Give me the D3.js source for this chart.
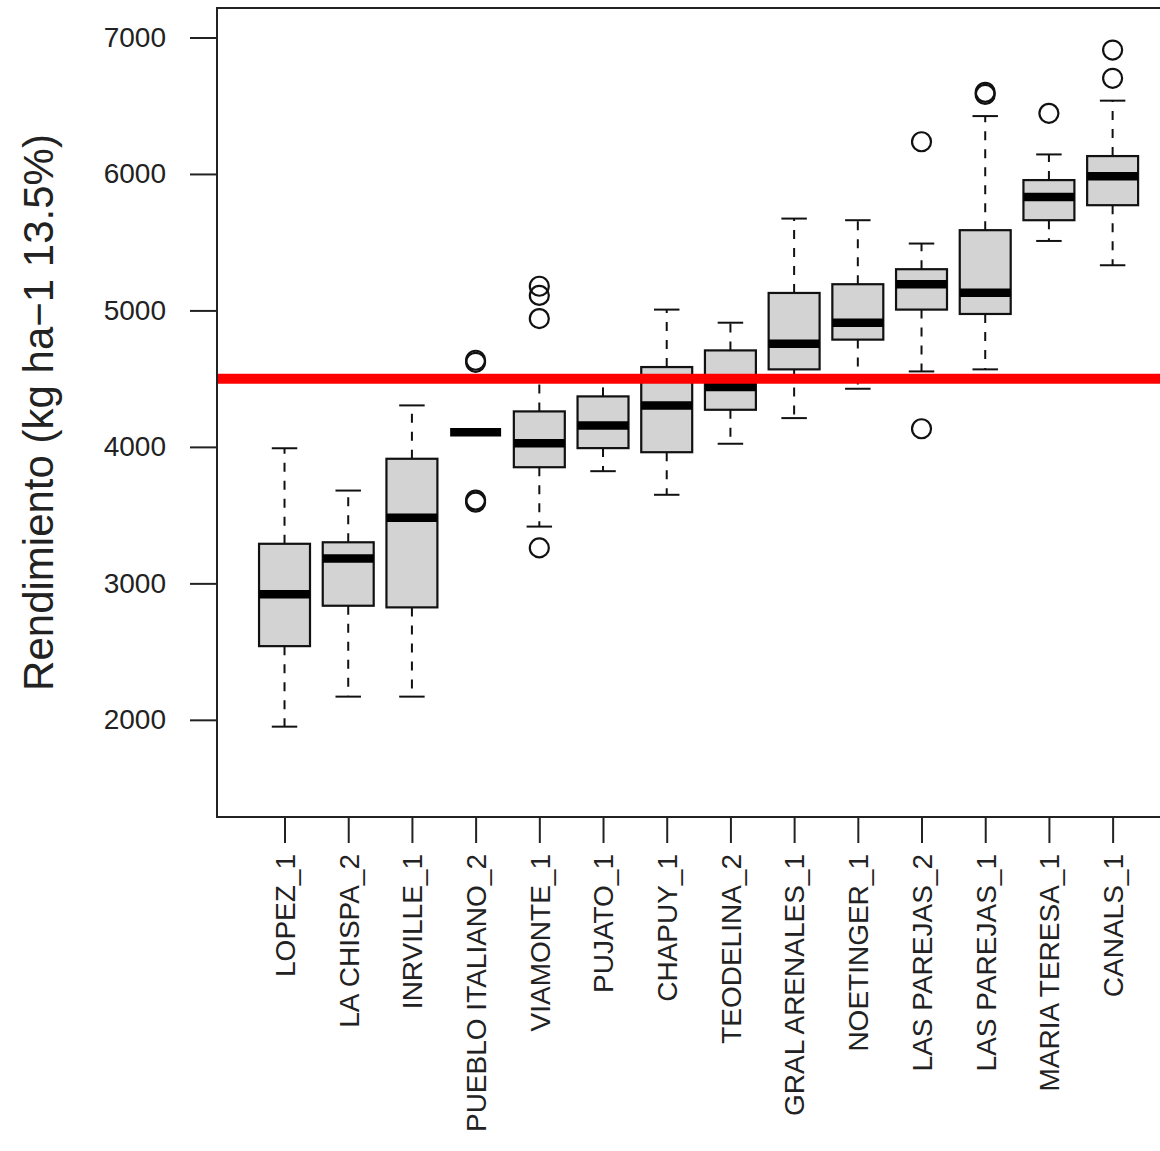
<!DOCTYPE html>
<html>
<head>
<meta charset="utf-8">
<script src="https://cdn.jsdelivr.net/npm/d3@7"></script>
<style>
  html, body { margin: 0; padding: 0; background: #fff; }
  svg { display: block; font-family: "Liberation Sans", Arial, sans-serif; }
</style>
</head>
<body>
<div id="chart"></div>
<script>
// sites in plotting order
const sites = ["LOPEZ_1", "LA CHISPA_2", "INRVILLE_1", "PUEBLO ITALIANO_2", "VIAMONTE_1",
  "PUJATO_1", "CHAPUY_1", "TEODELINA_2", "GRAL ARENALES_1", "NOETINGER_1",
  "LAS PAREJAS_2", "LAS PAREJAS_1", "MARIA TERESA_1", "CANALS_1"];

// five-number summaries (kg/ha)
const whiskerLow = [1950, 2170, 2170, 4108, 3416, 3822, 3649, 4023, 4211, 4426, 4553, 4568, 5509, 5331];
const q1 =         [2540, 2836, 2824, 4108, 3851, 3991, 3961, 4272, 4568, 4786, 5006, 4974, 5661, 5771];
const median =     [2920, 3183, 3480, 4108, 4027, 4157, 4304, 4438, 4756, 4910, 5192, 5130, 5832, 5984];
const q3 =         [3290, 3301, 3913, 4108, 4260, 4370, 4585, 4707, 5128, 5192, 5302, 5588, 5955, 6131];
const whiskerHigh = [3990, 3680, 4304, 4108, 4480, 4490, 5006, 4910, 5673, 5661, 5490, 6424, 6143, 6537];
const outliers = [[], [], [], [4620, 4635, 3595, 3610], [5177, 5110, 4940, 3260], [], [], [], [], [],
  [6236, 4133], [6583, 6598], [6444], [6908, 6701]];

const yTicks = [2000, 3000, 4000, 5000, 6000, 7000];
const meanLine = 4500;

const width = 1160;
const height = 1151;
const plotLeft = 217, plotTop = 8, plotBottom = 817;
const unit = 63.7;
const plotRight = plotLeft + 15.12 * unit;

const svg = d3.select('#chart')
  .append('svg')
  .attr('width', width)
  .attr('height', height);

const x = d3.scaleLinear()
  .domain([-0.06, 15.06])
  .range([plotLeft, plotRight]);

const y = d3.scaleLinear()
  .domain([1288, 7216])
  .range([plotBottom, plotTop]);

const boxW = 0.8 * unit;
const capW = boxW / 2;

const boxes = svg.append('g');

sites.forEach((s, i) => {
  const cx = x(i + 1);
  const g = boxes.append('g');

  // whiskers (dashed), drawn from box outward
  g.append('line')
    .attr('x1', cx).attr('x2', cx)
    .attr('y1', y(q1[i])).attr('y2', y(whiskerLow[i]))
    .attr('stroke', '#111').attr('stroke-width', 2)
    .attr('stroke-dasharray', '9,9');
  g.append('line')
    .attr('x1', cx).attr('x2', cx)
    .attr('y1', y(q3[i])).attr('y2', y(whiskerHigh[i]))
    .attr('stroke', '#111').attr('stroke-width', 2)
    .attr('stroke-dasharray', '9,9');

  // staples
  [whiskerLow[i], whiskerHigh[i]].forEach(v => {
    g.append('line')
      .attr('x1', cx - capW / 2).attr('x2', cx + capW / 2)
      .attr('y1', y(v)).attr('y2', y(v))
      .attr('stroke', '#111').attr('stroke-width', 2);
  });

  // box
  g.append('rect')
    .attr('x', cx - boxW / 2)
    .attr('y', y(q3[i]))
    .attr('width', boxW)
    .attr('height', y(q1[i]) - y(q3[i]))
    .attr('fill', '#d3d3d3')
    .attr('stroke', '#111')
    .attr('stroke-width', 2.2);

  // median
  g.append('line')
    .attr('x1', cx - boxW / 2).attr('x2', cx + boxW / 2)
    .attr('y1', y(median[i])).attr('y2', y(median[i]))
    .attr('stroke', '#000').attr('stroke-width', 8.5);

  g.selectAll('circle')
    .data(outliers[i])
    .join('circle')
    .attr('cx', cx)
    .attr('cy', d => y(d))
    .attr('r', 9.5)
    .attr('fill', 'none')
    .attr('stroke', '#111')
    .attr('stroke-width', 2.2);
});

// reference line
svg.append('line')
  .attr('x1', plotLeft).attr('x2', plotRight)
  .attr('y1', y(meanLine)).attr('y2', y(meanLine))
  .attr('stroke', '#ff0000')
  .attr('stroke-width', 10);

// frame
svg.append('rect')
  .attr('x', plotLeft).attr('y', plotTop)
  .attr('width', plotRight - plotLeft).attr('height', plotBottom - plotTop)
  .attr('fill', 'none')
  .attr('stroke', '#222')
  .attr('stroke-width', 2);

// y axis
const yAxis = svg.append('g')
  .attr('transform', `translate(${plotLeft},0)`)
  .call(d3.axisLeft(y).tickValues(yTicks).tickFormat(d3.format('d')).tickSize(27).tickPadding(24));
yAxis.select('.domain').remove();
yAxis.selectAll('line').attr('stroke', '#222').attr('stroke-width', 2);
yAxis.selectAll('text')
  .attr('font-size', 28)
  .attr('fill', '#222')
  .attr('font-family', '"Liberation Sans", Arial, sans-serif');

// x axis
const xAxis = svg.append('g')
  .attr('transform', `translate(0,${plotBottom})`)
  .call(d3.axisBottom(x).tickValues(d3.range(1, sites.length + 1))
    .tickFormat(d => sites[d - 1]).tickSize(26));
xAxis.select('.domain').remove();
xAxis.selectAll('line').attr('stroke', '#222').attr('stroke-width', 2);
xAxis.selectAll('text')
  .attr('transform', 'rotate(-90)')
  .attr('text-anchor', 'end')
  .attr('x', -37)
  .attr('y', 0)
  .attr('dy', '0.35em')
  .attr('font-size', 28)
  .attr('fill', '#222')
  .attr('font-family', '"Liberation Sans", Arial, sans-serif');

// y title
svg.append('text')
  .attr('transform', `translate(53,${(plotTop + plotBottom) / 2}) rotate(-90)`)
  .attr('text-anchor', 'middle')
  .attr('font-size', 42)
  .attr('fill', '#222')
  .text('Rendimiento (kg ha\u22121 13.5%)');
</script>
</body>
</html>
